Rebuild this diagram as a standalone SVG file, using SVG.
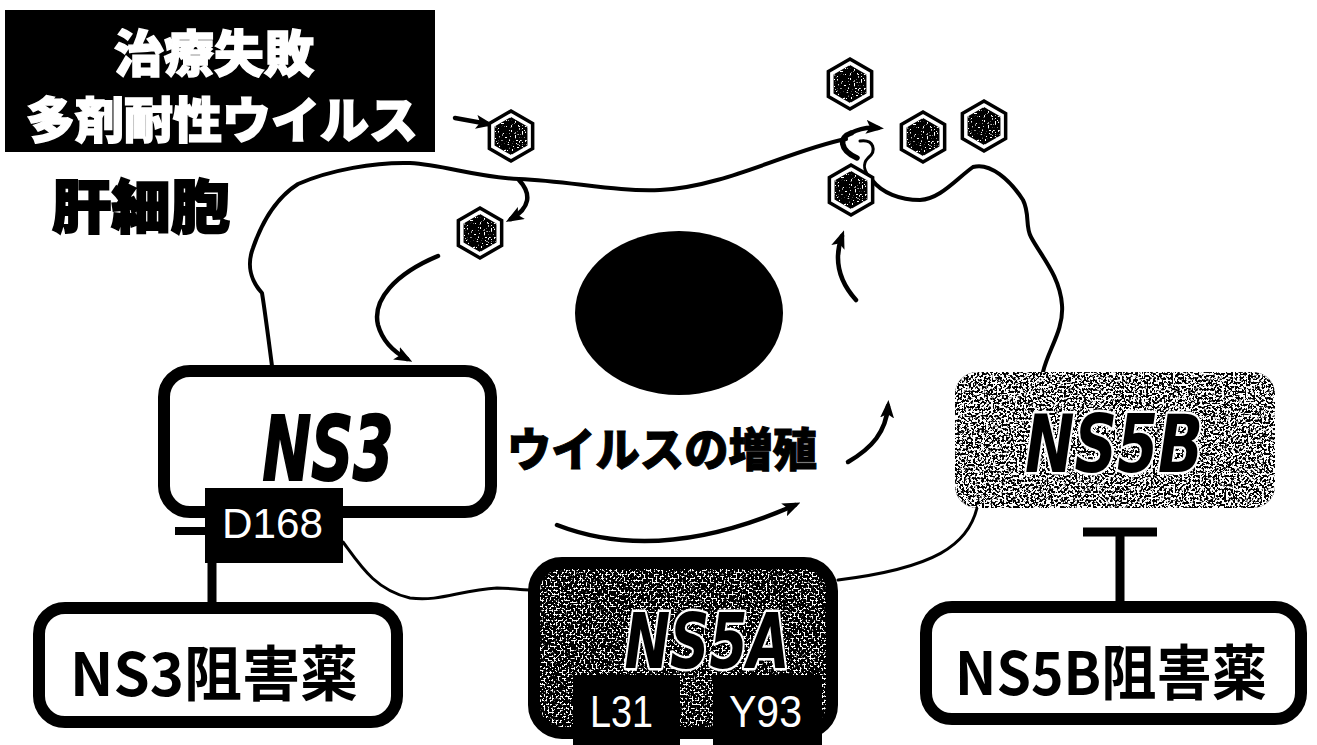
<svg xmlns="http://www.w3.org/2000/svg" xmlns:xlink="http://www.w3.org/1999/xlink" width="1317" height="745" viewBox="0 0 1317 745">
  <style>
    .jp-heavy { font-family: "Noto Sans CJK JP", "Noto Sans", sans-serif; font-weight: 900; }
    .jp-label { font-family: "Noto Sans CJK JP", "Noto Sans", sans-serif; font-weight: 700; font-size: 60px; fill: #000; text-anchor: middle; }
    .tag-text { font-family: "Liberation Sans", Arial, sans-serif; fill: #fff; }
    .protein { font-family: "DejaVu Sans Condensed", "DejaVu Sans", sans-serif; font-weight: bold; font-style: italic; font-stretch: condensed; }
    .outlined { fill: #000; stroke: #fff; stroke-width: 5; paint-order: stroke; stroke-linejoin: round; }
    .box { fill: #fff; stroke: #000; stroke-width: 12; }
    .membrane { fill: none; stroke: #000; stroke-width: 4; stroke-linecap: round; stroke-linejoin: round; }
    .arrow { fill: none; stroke: #000; stroke-width: 4.5; stroke-linecap: round; marker-end: url(#head); }
    .link { fill: none; stroke: #000; stroke-width: 3; stroke-linecap: round; }
  </style>
  <defs>
    <marker id="head" markerUnits="userSpaceOnUse" markerWidth="18" markerHeight="14" refX="12" refY="7" orient="auto">
      <path d="M0,0 L18,7 L0,14 L4,7 z" fill="#000"/>
    </marker>
    <!-- speckled fills: white grain thresholded out of fractal noise, clipped to the shape -->
    <filter id="grainDark" x="0" y="0" width="1" height="1" color-interpolation-filters="sRGB">
      <feTurbulence type="fractalNoise" baseFrequency="0.7" numOctaves="1" seed="4" result="n"/>
      <feColorMatrix in="n" type="matrix" values="0 0 0 0 1  0 0 0 0 1  0 0 0 0 1  14 0 0 0 -8.6" result="w"/>
      <feComposite in="w" in2="SourceAlpha" operator="in" result="wc"/>
      <feMerge><feMergeNode in="SourceGraphic"/><feMergeNode in="wc"/></feMerge>
    </filter>
    <filter id="grainMid" x="0" y="0" width="1" height="1" color-interpolation-filters="sRGB">
      <feTurbulence type="fractalNoise" baseFrequency="0.5" numOctaves="2" seed="7" result="n"/>
      <feColorMatrix in="n" type="matrix" values="0 0 0 0 1  0 0 0 0 1  0 0 0 0 1  14 0 0 0 -7.3" result="w"/>
      <feComposite in="w" in2="SourceAlpha" operator="in" result="wc"/>
      <feMerge><feMergeNode in="SourceGraphic"/><feMergeNode in="wc"/></feMerge>
    </filter>
    <filter id="grainLight" x="0" y="0" width="1" height="1" color-interpolation-filters="sRGB">
      <feTurbulence type="fractalNoise" baseFrequency="0.45" numOctaves="2" seed="11" result="n"/>
      <feColorMatrix in="n" type="matrix" values="0 0 0 0 1  0 0 0 0 1  0 0 0 0 1  14 0 0 0 -6.4" result="w"/>
      <feComposite in="w" in2="SourceAlpha" operator="in" result="wc"/>
      <feMerge><feMergeNode in="SourceGraphic"/><feMergeNode in="wc"/></feMerge>
    </filter>
    <g id="virus">
      <polygon points="0,-25 21.65,-12.5 21.65,12.5 0,25 -21.65,12.5 -21.65,-12.5" fill="#fff" stroke="#000" stroke-width="3.5"/>
      <polygon points="0,-19 16.45,-9.5 16.45,9.5 0,19 -16.45,9.5 -16.45,-9.5" fill="#000" filter="url(#grainDark)"/>
    </g>
  </defs>

  <rect width="1317" height="745" fill="#fff"/>

  <!-- title block -->
  <g id="title">
    <rect x="5" y="10" width="430" height="142" fill="#000"/>
    <text class="jp-heavy" fill="#fff" stroke="#fff" stroke-width="1.5" text-anchor="middle"><tspan x="214" y="72" font-size="50">治療失敗</tspan><tspan x="222" y="138" font-size="49">多剤耐性ウイルス</tspan></text>
  </g>

  <g id="cell-label">
    <text class="jp-heavy" x="141" y="228" font-size="58" fill="#000" stroke="#000" stroke-width="2" text-anchor="middle" textLength="178" lengthAdjust="spacingAndGlyphs">肝細胞</text>
  </g>

  <!-- nucleus -->
  <g id="nucleus">
    <ellipse cx="679" cy="313" rx="104" ry="82" fill="#000"/>
  </g>

  <!-- connectors: membrane, flow arrows, links -->
  <g id="connectors">
    <path class="membrane" d="M 272 366 C 268 335 264 305 262 293 C 250 280 247 264 253 248 C 262 222 276 198 298 184 C 330 170 375 162 410 163 C 445 165 475 177 519 179 C 570 181 615 192 660 190 C 725 187 790 150 846 139"/>
    <path fill="none" stroke="#000" stroke-width="5.5" stroke-linecap="round" d="M 851 133 C 839 137 839 150 857 158"/>
    <path fill="none" stroke="#000" stroke-width="3" stroke-linecap="round" stroke-linejoin="round" d="M 860 141 C 874 139 877 151 868 158 C 862 164 864 172 872 180"/>
    <path class="membrane" d="M 872 180 C 882 193 900 200 920 200 C 940 199 955 180 973 167 C 990 162 1010 180 1023 200 C 1030 214 1025 226 1031 237 C 1041 256 1060 276 1062 305 C 1064 330 1048 350 1043 372"/>

    <path class="arrow" d="M 851 133 C 860 128 868 127 878 128"/>
    <path class="arrow" d="M 455 118 L 488 124"/>
    <path class="arrow" d="M 519 180 C 532 194 530 208 511 219"/>
    <path class="arrow" stroke-width="5" d="M 438 256 C 395 274 372 300 378 325 C 383 343 396 353 407 359"/>
    <path class="arrow" d="M 557 525 Q 660 565 795 505"/>
    <path class="arrow" d="M 848 462 C 872 448 886 432 888 406"/>
    <path class="arrow" d="M 856 300 C 838 280 834 258 842 236"/>

    <path class="link" d="M 343 542 C 360 565 375 590 410 598 C 440 602 460 590 497 588 C 510 588 520 590 530 590"/>
    <path class="link" d="M 977 508 C 968 545 935 568 838 580"/>

    <path fill="none" stroke="#000" stroke-width="8" d="M 175 531 L 205 531"/>
    <path fill="none" stroke="#000" stroke-width="9" d="M 212 563 L 212 604"/>
    <path fill="none" stroke="#000" stroke-width="9" d="M 1083 532 L 1157 532 M 1120 532 L 1120 603"/>
  </g>

  <!-- virus particles -->
  <g id="viruses">
    <use xlink:href="#virus" href="#virus" x="511" y="136"/>
    <use xlink:href="#virus" href="#virus" x="480" y="233"/>
    <use xlink:href="#virus" href="#virus" x="850" y="84"/>
    <use xlink:href="#virus" href="#virus" x="923" y="137"/>
    <use xlink:href="#virus" href="#virus" x="984" y="126"/>
    <use xlink:href="#virus" href="#virus" x="851" y="190"/>
  </g>

  <g id="ns3">
    <rect class="box" x="164" y="371" width="327" height="141" rx="26"/>
    <text class="protein" x="328" y="480" font-size="89" stroke="#000" stroke-width="2" text-anchor="middle" textLength="131" lengthAdjust="spacingAndGlyphs">NS3</text>
    <rect x="205" y="488" width="138" height="75" fill="#000"/>
    <text class="tag-text" x="222" y="538" font-size="42" textLength="101" lengthAdjust="spacingAndGlyphs">D168</text>
  </g>

  <g id="growth-label">
    <text class="jp-heavy" x="662" y="466" font-size="46" fill="#000" stroke="#000" stroke-width="1" text-anchor="middle" textLength="310" lengthAdjust="spacingAndGlyphs">ウイルスの増殖</text>
  </g>

  <g id="ns5b">
    <rect x="955" y="372" width="320" height="136" rx="22" fill="#000" filter="url(#grainLight)"/>
    <text class="protein outlined" x="1114" y="472" font-size="81" text-anchor="middle" textLength="178" lengthAdjust="spacingAndGlyphs">NS5B</text>
  </g>

  <g id="ns5a">
    <rect x="534" y="563" width="298" height="170" rx="28" fill="#000" filter="url(#grainMid)"/>
    <rect x="534" y="563" width="298" height="170" rx="28" fill="none" stroke="#000" stroke-width="12"/>
    <text class="protein outlined" x="707" y="668" font-size="77" text-anchor="middle" textLength="165" lengthAdjust="spacingAndGlyphs">NS5A</text>
    <rect x="573" y="675" width="107" height="70" fill="#000"/>
    <text class="tag-text" x="590" y="727" font-size="44" textLength="63" lengthAdjust="spacingAndGlyphs">L31</text>
    <rect x="713" y="675" width="109" height="70" fill="#000"/>
    <text class="tag-text" x="729" y="727" font-size="44" textLength="73" lengthAdjust="spacingAndGlyphs">Y93</text>
  </g>

  <g id="ns3-inhibitor">
    <rect class="box" x="39" y="608" width="358" height="114" rx="26"/>
    <text class="jp-label" x="214" y="696" textLength="288" lengthAdjust="spacingAndGlyphs">NS3阻害薬</text>
  </g>

  <g id="ns5b-inhibitor">
    <rect class="box" x="926" y="607" width="375" height="112" rx="26"/>
    <text class="jp-label" x="1111" y="695" textLength="312" lengthAdjust="spacingAndGlyphs">NS5B阻害薬</text>
  </g>
</svg>
